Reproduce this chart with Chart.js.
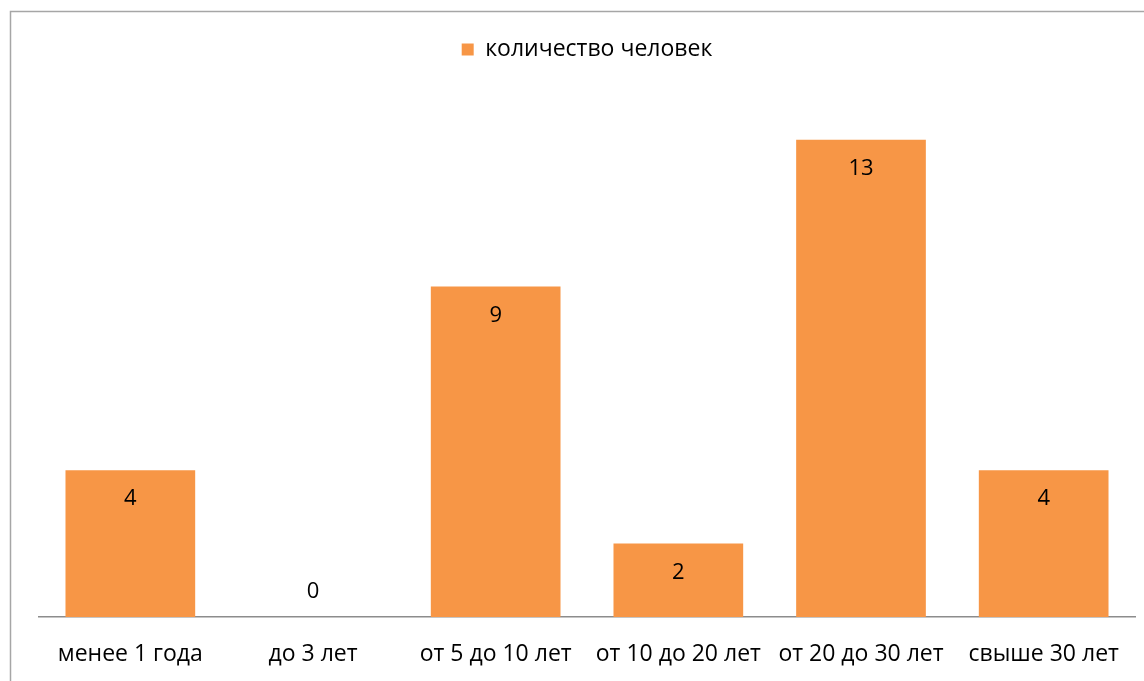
<!DOCTYPE html>
<html>
<head>
<meta charset="utf-8">
<script src="https://cdn.jsdelivr.net/npm/chart.js@4"></script>
<style>
  html, body { margin: 0; padding: 0; background: #fff; }
  #wrap { position: absolute; left: 0; top: 0; width: 1144px; height: 681px; }
</style>
</head>
<body>
<div id="wrap"><canvas id="chart" width="1144" height="681"></canvas></div>
<script>
// categories and values
const categories = ["менее 1 года", "до 3 лет", "от 5 до 10 лет", "от 10 до 20 лет", "от 20 до 30 лет", "свыше 30 лет"];
const counts = [4, 0, 9, 2, 13, 4];
const seriesName = "количество человек";

const FONT = "'Open Sans', 'Noto Sans', sans-serif";

// frame of the chart box (left and top edges visible)
const framePlugin = {
  id: "frame",
  beforeDraw(chart) {
    const ctx = chart.ctx;
    ctx.save();
    ctx.fillStyle = "#fff";
    ctx.fillRect(0, 0, chart.width, chart.height);
    ctx.strokeStyle = "#a6a6a6";
    ctx.lineWidth = 1.5;
    ctx.beginPath();
    ctx.moveTo(10.5, chart.height);
    ctx.lineTo(10.5, 11.5);
    ctx.lineTo(chart.width, 11.5);
    ctx.stroke();
    ctx.restore();
  }
};

// extra room under the legend
const legendMargin = {
  id: "legendMargin",
  beforeInit(chart) {
    const fit = chart.legend.fit;
    chart.legend.fit = function () {
      fit.bind(chart.legend)();
      this.height += 32;
    };
  }
};

// value labels inside top of bars
const valueLabels = {
  id: "valueLabels",
  afterDatasetsDraw(chart) {
    const ctx = chart.ctx;
    const meta = chart.getDatasetMeta(0);
    ctx.save();
    ctx.font = "22px " + FONT;
    ctx.fillStyle = "#000";
    ctx.textAlign = "center";
    ctx.textBaseline = "middle";
    meta.data.forEach((bar, i) => {
      const v = chart.data.datasets[0].data[i];
      const y = v > 0 ? bar.y + 29 : bar.base - 25;
      ctx.fillText(String(v), bar.x, y);
    });
    ctx.restore();
  }
};

new Chart(document.getElementById("chart"), {
  type: "bar",
  plugins: [framePlugin, legendMargin, valueLabels],
  data: {
    labels: categories,
    datasets: [{
      label: seriesName,
      data: counts,
      backgroundColor: "#f79646",
      borderWidth: 0,
      categoryPercentage: 1,
      barPercentage: 0.71
    }]
  },
  options: {
    responsive: false,
    animation: false,
    layout: { padding: { left: 39, right: 9, top: 32, bottom: 12 } },
    plugins: {
      tooltip: { enabled: false },
      legend: {
        display: true,
        position: "top",
        labels: {
          boxWidth: 12,
          boxHeight: 12,
          color: "#000",
          font: { family: FONT, size: 23 },
          padding: 6
        }
      }
    },
    scales: {
      x: {
        grid: { display: false, drawTicks: false },
        border: { display: true, color: "#8c8c8c", width: 1.5 },
        ticks: {
          color: "#000",
          font: { family: FONT, size: 23 },
          padding: 24,
          maxRotation: 0,
          autoSkip: false
        },
        afterFit(scale) { scale.height = 52; }
      },
      y: {
        display: false,
        min: 0,
        max: 14
      }
    }
  }
});
</script>
</body>
</html>
